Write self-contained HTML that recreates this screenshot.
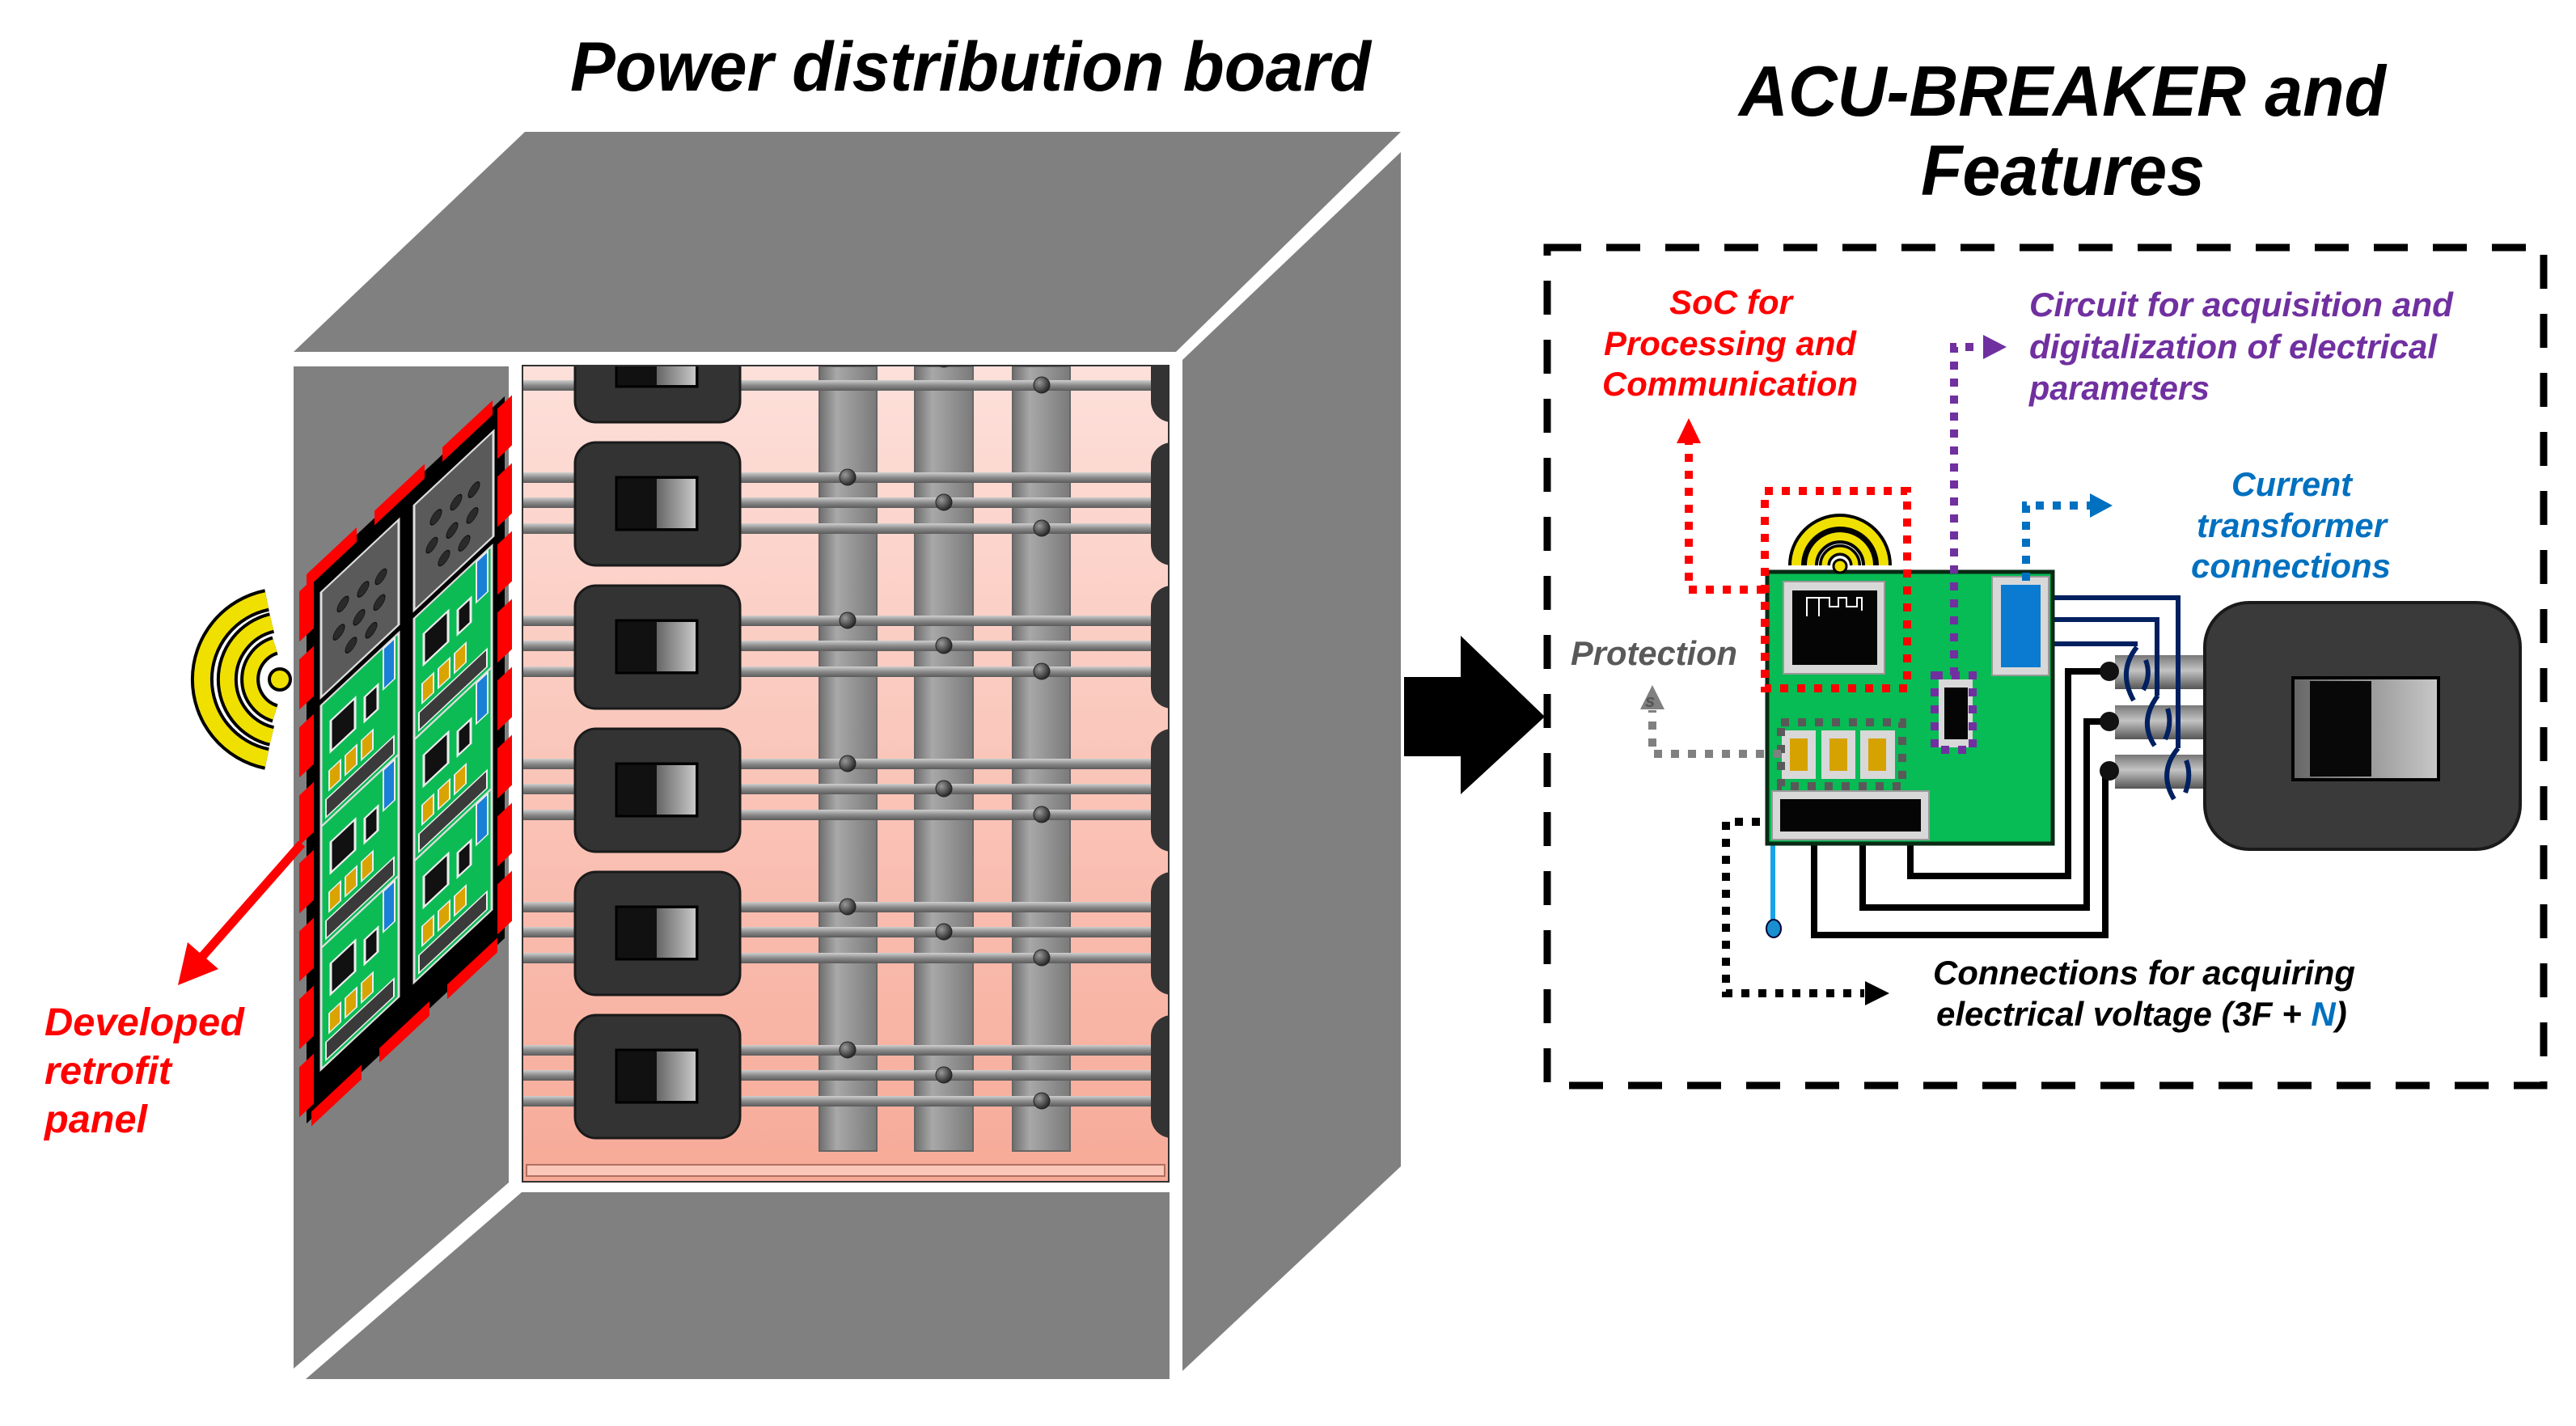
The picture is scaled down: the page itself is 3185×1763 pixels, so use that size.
<!DOCTYPE html>
<html><head><meta charset="utf-8"><style>
html,body{margin:0;padding:0;background:#fff;}
svg{display:block;}
text{font-family:"Liberation Sans",sans-serif;font-weight:bold;font-style:italic;}
</style></head><body>
<svg width="3185" height="1763" viewBox="0 0 3185 1763" xmlns="http://www.w3.org/2000/svg">
<defs>
<linearGradient id="pink" x1="0" y1="0" x2="0" y2="1"><stop offset="0" stop-color="#fde0da"/><stop offset="1" stop-color="#f7aa98"/></linearGradient>
<linearGradient id="rail" x1="0" y1="0" x2="0" y2="1"><stop offset="0" stop-color="#cfcfcf"/><stop offset="0.5" stop-color="#8a8a8a"/><stop offset="1" stop-color="#5a5a5a"/></linearGradient>
<linearGradient id="bar" x1="0" y1="0" x2="1" y2="0"><stop offset="0" stop-color="#6e6e6e"/><stop offset="0.3" stop-color="#a8a8a8"/><stop offset="1" stop-color="#7a7a7a"/></linearGradient>
<linearGradient id="sw" x1="0" y1="0" x2="1" y2="0"><stop offset="0" stop-color="#666"/><stop offset="1" stop-color="#c8c8c8"/></linearGradient>
<radialGradient id="dot" cx="0.35" cy="0.35" r="0.7"><stop offset="0" stop-color="#999"/><stop offset="1" stop-color="#222"/></radialGradient>
<linearGradient id="cable" x1="0" y1="0" x2="0" y2="1"><stop offset="0" stop-color="#777"/><stop offset="0.45" stop-color="#c4c4c4"/><stop offset="1" stop-color="#555"/></linearGradient>
<clipPath id="pc"><rect x="647" y="453" width="797" height="1007"/></clipPath>
</defs>

<text x="705" y="112" font-size="86" textLength="990" lengthAdjust="spacingAndGlyphs">Power distribution board</text>
<text x="2150" y="143" font-size="88" textLength="800" lengthAdjust="spacingAndGlyphs">ACU-BREAKER and</text>
<text x="2375" y="241" font-size="88" textLength="351" lengthAdjust="spacingAndGlyphs">Features</text>

<!-- cabinet -->
<polygon points="363,435 649,163 1732,163 1454,435" fill="#808080"/>
<polygon points="1462,445 1732,188 1732,1442 1462,1695" fill="#808080"/>
<polygon points="363,453 629,453 629,1462 363,1692" fill="#808080"/>
<polygon points="378,1705 645,1474 1446,1474 1446,1705" fill="#808080"/>

<!-- pink panel -->
<rect x="645" y="451" width="801" height="1011" fill="#333"/>
<rect x="647" y="453" width="797" height="1007" fill="url(#pink)"/>
<rect x="651" y="1440" width="789" height="14" fill="#fbc7b8" stroke="#b07060" stroke-width="2"/>
<g clip-path="url(#pc)">
<rect x="1013" y="453" width="71" height="970" fill="url(#bar)" stroke="#666" stroke-width="2"/>
<rect x="1131" y="453" width="72" height="970" fill="url(#bar)" stroke="#666" stroke-width="2"/>
<rect x="1252" y="453" width="71" height="970" fill="url(#bar)" stroke="#666" stroke-width="2"/>
</g>

<g clip-path="url(#pc)">
<g id="row">
<rect x="647" y="407" width="797" height="13" fill="url(#rail)"/><rect x="647" y="438" width="797" height="13" fill="url(#rail)"/><rect x="647" y="470" width="797" height="13" fill="url(#rail)"/>
<circle cx="1048" cy="413" r="10" fill="url(#dot)" stroke="#222"/><circle cx="1167" cy="444" r="10" fill="url(#dot)" stroke="#222"/><circle cx="1288" cy="476" r="10" fill="url(#dot)" stroke="#222"/>
<rect x="711" y="370" width="204" height="152" rx="26" fill="#333" stroke="#1a1a1a" stroke-width="3"/>
<rect x="762" y="413" width="100" height="65" fill="#111" stroke="#000" stroke-width="3"/><rect x="812" y="415" width="48" height="61" fill="url(#sw)"/>
<rect x="1423" y="370" width="60" height="152" rx="26" fill="#333"/>
</g>
<use href="#row" transform="translate(0,177)"/>
<use href="#row" transform="translate(0,354)"/>
<use href="#row" transform="translate(0,531)"/>
<use href="#row" transform="translate(0,708)"/>
<use href="#row" transform="translate(0,885)"/>
</g>

<!-- retrofit panel (skewed) -->
<g transform="matrix(1,-0.935,0,1,379,719)">
<rect x="0" y="0" width="245" height="670" fill="#000"/>
<rect x="18" y="30" width="96" height="130" fill="#5a5a5a" stroke="#ddd" stroke-width="3"/>
<rect x="133" y="30" width="98" height="130" fill="#5a5a5a" stroke="#ddd" stroke-width="3"/>
<g fill="#2a2a2a" stroke="#111">
<circle cx="45" cy="70" r="7"/><circle cx="70" cy="75" r="7"/><circle cx="92" cy="80" r="7"/><circle cx="40" cy="100" r="7"/><circle cx="65" cy="105" r="7"/><circle cx="90" cy="110" r="7"/><circle cx="55" cy="130" r="7"/><circle cx="80" cy="135" r="7"/>
<circle cx="160" cy="70" r="7"/><circle cx="185" cy="75" r="7"/><circle cx="207" cy="80" r="7"/><circle cx="155" cy="100" r="7"/><circle cx="180" cy="105" r="7"/><circle cx="205" cy="110" r="7"/><circle cx="170" cy="130" r="7"/><circle cx="195" cy="135" r="7"/>
</g>
<g id="gm">
<rect x="18" y="170" width="96" height="150" fill="#0dbb55" stroke="#ddd" stroke-width="3"/>
<rect x="30" y="200" width="30" height="38" fill="#111" stroke="#eee" stroke-width="3"/>
<rect x="72" y="210" width="16" height="30" fill="#111" stroke="#eee" stroke-width="3"/>
<rect x="95" y="172" width="14" height="50" fill="#1a7fd6" stroke="#eee" stroke-width="2"/>
<rect x="28" y="260" width="14" height="24" fill="#d9a400" stroke="#eee" stroke-width="2"/><rect x="48" y="260" width="14" height="24" fill="#d9a400" stroke="#eee" stroke-width="2"/><rect x="68" y="260" width="14" height="24" fill="#d9a400" stroke="#eee" stroke-width="2"/>
<rect x="24" y="292" width="84" height="22" fill="#3a3a3a" stroke="#eee" stroke-width="2"/>
</g>
<use href="#gm" transform="translate(0,150)"/>
<use href="#gm" transform="translate(0,300)"/>
<use href="#gm" transform="translate(115,0)"/>
<use href="#gm" transform="translate(115,150)"/>
<use href="#gm" transform="translate(115,300)"/>
<rect x="0" y="0" width="245" height="670" fill="none" stroke="#ff0000" stroke-width="18" stroke-dasharray="62 22"/>
</g>

<!-- left wifi -->
<g fill="none" stroke-linecap="butt">
<path d="M330,742 A100,100 0 0 0 330,938" stroke="#000" stroke-width="28"/>
<path d="M330,742 A100,100 0 0 0 330,938" stroke="#f0e000" stroke-width="20"/>
<path d="M336,770 A72,72 0 0 0 336,910" stroke="#000" stroke-width="26"/>
<path d="M336,770 A72,72 0 0 0 336,910" stroke="#f0e000" stroke-width="18"/>
<path d="M340,798 A44,44 0 0 0 340,882" stroke="#000" stroke-width="24"/>
<path d="M340,798 A44,44 0 0 0 340,882" stroke="#f0e000" stroke-width="16"/>
</g>
<circle cx="346" cy="840" r="13" fill="#f0e000" stroke="#000" stroke-width="4"/>

<!-- red arrow -->
<line x1="373" y1="1043" x2="248" y2="1185" stroke="#ff0000" stroke-width="11"/>
<polygon points="220,1218 232,1165 270,1198" fill="#ff0000"/>
<text x="55" y="1280" font-size="48" fill="#ff0000" textLength="247" lengthAdjust="spacingAndGlyphs">Developed</text>
<text x="55" y="1340" font-size="48" fill="#ff0000" textLength="157" lengthAdjust="spacingAndGlyphs">retrofit</text>
<text x="55" y="1400" font-size="48" fill="#ff0000" textLength="127" lengthAdjust="spacingAndGlyphs">panel</text>

<!-- big arrow -->
<polygon points="1736,837 1806,837 1806,786 1910,886 1806,982 1806,935 1736,935" fill="#000"/>

<!-- dashed box -->
<rect x="1913" y="306" width="1232" height="1036" fill="none" stroke="#000" stroke-width="9" stroke-dasharray="42 31"/>

<g font-size="42">
<text x="2064" y="388" fill="#ff0000" textLength="152" lengthAdjust="spacingAndGlyphs">SoC for</text>
<text x="1983" y="439" fill="#ff0000" textLength="312" lengthAdjust="spacingAndGlyphs">Processing and</text>
<text x="1981" y="489" fill="#ff0000" textLength="316" lengthAdjust="spacingAndGlyphs">Communication</text>
<text x="2509" y="391" fill="#7030a0" textLength="524" lengthAdjust="spacingAndGlyphs">Circuit for acquisition and</text>
<text x="2509" y="443" fill="#7030a0" textLength="504" lengthAdjust="spacingAndGlyphs">digitalization of electrical</text>
<text x="2509" y="494" fill="#7030a0" textLength="223" lengthAdjust="spacingAndGlyphs">parameters</text>
<text x="2759" y="613" fill="#0070c0" textLength="149" lengthAdjust="spacingAndGlyphs">Current</text>
<text x="2716" y="664" fill="#0070c0" textLength="235" lengthAdjust="spacingAndGlyphs">transformer</text>
<text x="2709" y="714" fill="#0070c0" textLength="247" lengthAdjust="spacingAndGlyphs">connections</text>
<text x="1942" y="822" fill="#595959" textLength="206" lengthAdjust="spacingAndGlyphs">Protection</text>
<text x="2390" y="1217" fill="#000" textLength="522" lengthAdjust="spacingAndGlyphs">Connections for acquiring</text>
<text x="2394" y="1268" fill="#000">electrical voltage (3F + <tspan fill="#0070c0">N</tspan>)</text>
</g>

<rect x="2615" y="810" width="115" height="42" fill="url(#cable)"/>
<rect x="2615" y="872" width="115" height="42" fill="url(#cable)"/>
<rect x="2615" y="933" width="115" height="42" fill="url(#cable)"/>
<rect x="2726" y="745" width="390" height="305" rx="55" fill="#3a3a3a" stroke="#1a1a1a" stroke-width="4"/>
<rect x="2835" y="838" width="180" height="126" fill="url(#sw)" stroke="#000" stroke-width="4"/>
<rect x="2856" y="842" width="76" height="118" fill="#080808"/>

<g fill="none" stroke="#000" stroke-width="8">
<polyline points="2243,1043 2243,1156 2603,1156 2603,955 2608,955"/>
<polyline points="2303,1043 2303,1122 2580,1122 2580,892 2608,892"/>
<polyline points="2362,1043 2362,1083 2557,1083 2557,830 2608,830"/>
</g>
<line x1="2192" y1="1043" x2="2192" y2="1146" stroke="#1aa3e8" stroke-width="6"/>
<ellipse cx="2193" cy="1148" rx="9" ry="11" fill="#1a8fd0" stroke="#003" stroke-width="2"/>
<circle cx="2608" cy="830" r="12" fill="#111"/><circle cx="2608" cy="892" r="12" fill="#111"/><circle cx="2608" cy="953" r="12" fill="#111"/>
<g fill="none" stroke="#002060" stroke-width="6">
<polyline points="2538,739 2693,739 2693,925"/>
<polyline points="2538,766 2667,766 2667,860"/>
<polyline points="2538,796 2643,796"/>
<path d="M2642,800 Q2618,830 2638,866"/><path d="M2653,816 Q2660,835 2650,853"/>
<path d="M2668,860 Q2644,892 2664,922"/><path d="M2680,876 Q2686,895 2677,914"/>
<path d="M2693,925 Q2668,955 2688,988"/><path d="M2703,940 Q2710,958 2702,980"/>
</g>

<rect x="2185" y="707" width="353" height="336" fill="#07bb55" stroke="#0a2a14" stroke-width="5"/>
<rect x="2205" y="719" width="125" height="114" fill="#d8d8d8" stroke="#999" stroke-width="2"/>
<rect x="2216" y="730" width="105" height="92" fill="#050505"/>
<polyline points="2234,762 2234,739 2249,739 2249,762 2249,739 2262,739 2262,750 2273,750 2273,739 2283,739 2283,750 2296,750 2296,739 2302,739 2302,755" fill="none" stroke="#fff" stroke-width="2"/>
<rect x="2463" y="713" width="70" height="122" fill="#d8d8d8" stroke="#999" stroke-width="2"/>
<rect x="2474" y="723" width="49" height="102" fill="#0a7bd0"/>
<rect x="2397" y="840" width="42" height="84" fill="#d8d8d8"/>
<rect x="2404" y="850" width="29" height="64" fill="#050505"/>
<g fill="#d8d8d8"><rect x="2203" y="903" width="42" height="60"/><rect x="2252" y="903" width="42" height="60"/><rect x="2300" y="903" width="43" height="60"/></g>
<g fill="#d6a200"><rect x="2213" y="913" width="22" height="40"/><rect x="2262" y="913" width="22" height="40"/><rect x="2310" y="913" width="22" height="40"/></g>
<rect x="2191" y="978" width="194" height="60" fill="#d8d8d8" stroke="#999" stroke-width="2"/>
<rect x="2201" y="988" width="174" height="40" fill="#050505"/>

<g fill="none">
<path d="M2221,699 A54,54 0 0 1 2329,699" stroke="#000" stroke-width="20"/>
<path d="M2221,699 A54,54 0 0 1 2329,699" stroke="#f0e000" stroke-width="12"/>
<path d="M2239,699 A36,36 0 0 1 2311,699" stroke="#000" stroke-width="18"/>
<path d="M2239,699 A36,36 0 0 1 2311,699" stroke="#f0e000" stroke-width="10"/>
<path d="M2256,699 A19,19 0 0 1 2294,699" stroke="#000" stroke-width="14"/>
<path d="M2256,699 A19,19 0 0 1 2294,699" stroke="#f0e000" stroke-width="7"/>
</g>
<circle cx="2275" cy="700" r="8" fill="#f0e000" stroke="#000" stroke-width="3"/>

<g fill="none" stroke-width="10" stroke-dasharray="10 11">
<rect x="2182" y="607" width="176" height="244" stroke="#ff0000"/>
<polyline points="2182,729 2088,729 2088,548" stroke="#ff0000"/>
<rect x="2392" y="835" width="47" height="92" stroke="#7030a0"/>
<polyline points="2416,835 2416,429 2450,429" stroke="#7030a0"/>
<polyline points="2505,718 2505,625 2586,625" stroke="#0070c0"/>
<rect x="2202" y="893" width="150" height="79" stroke="#595959"/>
<polyline points="2202,932 2043,932 2043,878" stroke="#808080"/>
<polyline points="2176,1016 2134,1016 2134,1228 2305,1228" stroke="#000"/>
</g>
<polygon points="2088,517 2073,548 2103,548" fill="#ff0000"/>
<polygon points="2481,429 2452,414 2452,444" fill="#7030a0"/>
<polygon points="2612,625 2584,610 2584,640" fill="#0070c0"/>
<polygon points="2043,847 2028,877 2058,877" fill="#808080"/>
<text x="2034" y="874" font-size="22" fill="#555">s</text>
<polygon points="2336,1228 2306,1213 2306,1243" fill="#000"/>
</svg>
</body></html>
